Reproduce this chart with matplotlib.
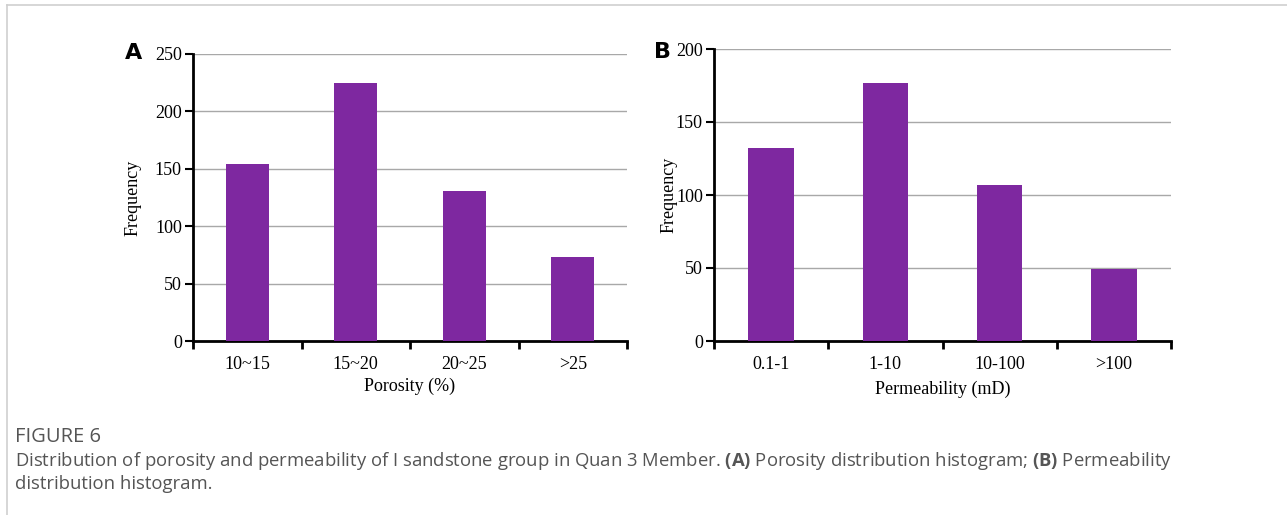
import numpy as np
import matplotlib
matplotlib.use('Agg')
import matplotlib.pyplot as plt
from matplotlib.lines import Line2D

# data
porosity_bins = ['10~15', '15~20', '20~25', '>25']
porosity_freq = [154, 225, 131, 73]
perm_bins = ['0.1-1', '1-10', '10-100', '>100']
perm_freq = [132, 177, 107, 49]

BAR_COLOR = '#7e28a0'
W, H = 1287, 515
FS = 13

plt.rcParams['font.family'] = ['Liberation Serif', 'DejaVu Serif']
plt.rcParams['mathtext.fontset'] = 'custom'
plt.rcParams['mathtext.bf'] = 'Open Sans:bold'
plt.rcParams['mathtext.rm'] = 'Open Sans'


def draw_panel(ax, cats, vals, ymax, ystep, xlabel, ylab_x, xpad):
    x = np.arange(len(cats))
    ax.bar(x, vals, width=0.4, color=BAR_COLOR, zorder=3)
    ax.set_xlim(-0.5, len(cats) - 0.5)
    ax.set_ylim(0, ymax)
    ax.set_yticks(np.arange(0, ymax + 1, ystep))
    ax.yaxis.grid(True, color='#a8a8a8', linewidth=1.0, zorder=0)
    # category labels sit between the boundary ticks
    ax.set_xticks(np.arange(-0.5, len(cats)), minor=False)
    ax.set_xticklabels([])
    ax.set_xticks(x, minor=True)
    ax.set_xticklabels(cats, minor=True, fontsize=FS)
    ax.tick_params(axis='x', which='minor', length=0, pad=11)
    ax.tick_params(axis='x', which='major', length=6, width=2, direction='out')
    ax.tick_params(axis='y', length=6, width=1.5, labelsize=FS, pad=2)
    for s in ['top', 'right']:
        ax.spines[s].set_visible(False)
    for s in ['left', 'bottom']:
        ax.spines[s].set_linewidth(2)
    ax.set_xlabel(xlabel, fontsize=FS, labelpad=xpad)
    ax.set_ylabel('Frequency', fontsize=FS)
    ax.yaxis.set_label_coords(ylab_x, 0.5)


fig = plt.figure(figsize=(W / 100, H / 100), dpi=100)

axA = fig.add_axes([193 / W, 1 - 341 / H, (627 - 193) / W, (341 - 54) / H])
draw_panel(axA, porosity_bins, porosity_freq, 250, 50, 'Porosity (%)',
           -(193 - 142) / (627 - 193), 3)

axB = fig.add_axes([714 / W, 1 - 341 / H, (1171 - 714) / W, (341 - 49) / H])
draw_panel(axB, perm_bins, perm_freq, 200, 50, 'Permeability (mD)',
           -(714 - 678) / (1171 - 714), 5)

fig.text(125 / W, 1 - 59 / H, 'A', fontsize=16, fontweight='bold',
         family='DejaVu Sans', ha='left', va='baseline')
fig.text(654 / W, 1 - 58 / H, 'B', fontsize=16, fontweight='bold',
         family='DejaVu Sans', ha='left', va='baseline')

# frame of the figure card
fig.add_artist(Line2D([7 / W, 7 / W], [0, 1 - 5 / H], color='#cfcfcf', lw=1.2))
fig.add_artist(Line2D([7 / W, 1], [1 - 5 / H, 1 - 5 / H], color='#cfcfcf', lw=1.2))

cap_color = '#555555'
fig.text(15 / W, 1 - 442 / H, 'FIGURE 6', fontsize=14.5, color=cap_color,
         family='Open Sans', va='baseline')
fig.text(15 / W, 1 - 466 / H,
         'Distribution of porosity and permeability of I sandstone group in Quan 3 Member. '
         r'$\bf{(A)}$ Porosity distribution histogram; $\bf{(B)}$ Permeability',
         fontsize=13.3, color=cap_color, family='Open Sans', va='baseline')
fig.text(15 / W, 1 - 489 / H, 'distribution histogram.', fontsize=13.3,
         color=cap_color, family='Open Sans', va='baseline')

fig.savefig('out.png', dpi=100)
